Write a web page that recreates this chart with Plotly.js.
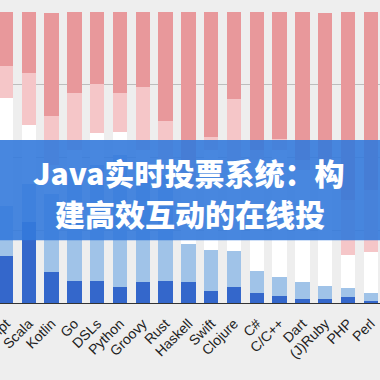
<!DOCTYPE html>
<html>
<head>
<meta charset="utf-8">
<script src="https://cdn.plot.ly/plotly-3.0.1.min.js"></script>
<style>html,body{margin:0;padding:0;background:#eeeeee;}#chart{width:380px;height:380px;}</style>
</head>
<body>
<div id="chart"></div>
<script>
const categories = ["JavaScript","Scala","Kotlin","Go","DSLs","Python","Groovy","Rust","Haskell","Swift","Clojure","C#","C/C++","Dart","(J)Ruby","PHP","Perl"];
const strongLike    = [16, 28, 10.8, 7.7, 7.7, 5.6, 7.3, 7.7, 7.3, 4.2, 5.6, 3.3, 2.5, 1.3, 1.3, 2.0, 0.7];
const like          = [17.5, 13, 26.5, 38, 39.8, 45.3, 40.1, 36.3, 13, 14, 12.4, 7.8, 6.5, 5.8, 4.7, 3.3, 2.6];
const neutral       = [37, 20, 10, 6.9, 11, 7.7, 5.2, 5.2, 20.3, 34.4, 29.4, 38, 43.5, 38.6, 35.8, 11.2, 14.3];
const dislike       = [11, 18, 17, 19.7, 16.6, 13.7, 21.5, 13.5, 8.6, 4.5, 22.7, 3.4, 4, 3.4, 3, 18.9, 21.2];
const strongDislike = [18.5, 21, 35.4, 27.7, 25.1, 27.7, 25.9, 37.4, 50.9, 42.9, 29.9, 47.4, 43.4, 51, 55, 64.6, 61.2];
const bannerLine1 = "Java实时投票系统：构";
const bannerLine2 = "建高效互动的在线投";

const series = [
  {name: "strongLike", y: strongLike, color: "#3467cb"},
  {name: "like", y: like, color: "#a0c3e8"},
  {name: "neutral", y: neutral, color: "#ffffff"},
  {name: "dislike", y: dislike, color: "#f5c6c8"},
  {name: "strongDislike", y: strongDislike, color: "#e8989b"}
];
const traces = series.map(s => ({
  type: "bar", x: categories, y: s.y, name: s.name,
  marker: {color: s.color, line: {width: 0}}, hoverinfo: "none"
}));

const bannerFont = {family: "Noto Sans CJK SC, sans-serif", size: 30, color: "#ffffff", weight: 900};

const layout = {
  width: 380, height: 380,
  margin: {l: 0, r: 0, t: 12, b: 77, pad: 0},
  paper_bgcolor: "#eeeeee", plot_bgcolor: "#eeeeee",
  barmode: "stack", bargap: 0.37, showlegend: false,
  xaxis: {
    range: [-0.263, 16.4], tickangle: -45, showline: true, linecolor: "#333333", linewidth: 1,
    ticks: "", showgrid: false, zeroline: false, ticklabelstandoff: 6,
    tickfont: {family: "Liberation Sans, Arial, sans-serif", size: 14, color: "#222222"}
  },
  yaxis: {
    range: [0, 100], dtick: 25, showticklabels: false, showgrid: true,
    gridcolor: "#bdbdbd", gridwidth: 1, zeroline: false, ticks: ""
  },
  shapes: [{
    type: "rect", xref: "paper", yref: "y", x0: 0, x1: 1, y0: 21.6, y1: 56.0,
    fillcolor: "rgba(52,122,220,0.9)", line: {width: 0}, layer: "above"
  }],
  annotations: [
    {text: bannerLine1, xref: "paper", yref: "y", x: 0.495, y: 45.0, showarrow: false,
     xanchor: "center", yanchor: "middle", font: bannerFont},
    {text: bannerLine2, xref: "paper", yref: "y", x: 0.5, y: 30.9, showarrow: false,
     xanchor: "center", yanchor: "middle", font: bannerFont}
  ]
};
Plotly.newPlot("chart", traces, layout, {displayModeBar: false, staticPlot: true});
</script>
</body>
</html>
